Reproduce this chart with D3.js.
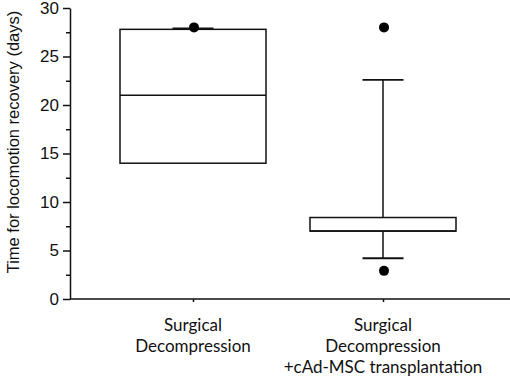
<!DOCTYPE html>
<html>
<head>
<meta charset="utf-8">
<script src="https://cdn.jsdelivr.net/npm/d3@7"></script>
<style>
  body { margin: 0; background: #fff; }
  .axis path, .axis line { stroke: #111; stroke-width: 1.5; }
  .axis text { font-family: Arial, "Liberation Sans", sans-serif; font-size: 17px; fill: #111; }
</style>
</head>
<body>
<div id="chart"></div>
<script>
// Box plot summaries (days)
const groups = ["Surgical Decompression", "Surgical Decompression +cAd-MSC transplantation"];
const groupLines = [["Surgical", "Decompression"], ["Surgical", "Decompression", "+cAd-MSC transplantation"]];
const q1 = [14, 7];
const medians = [21, 7];
const q3 = [27.8, 8.4];
const whiskerLow = [14, 4.2];
const whiskerHigh = [27.9, 22.6];
const outliers = [[28], [28, 2.9]];
const yTicks = [0, 5, 10, 15, 20, 25, 30];
const yMinorTicks = [2.5, 7.5, 12.5, 17.5, 22.5, 27.5];

const width = 510, height = 384;
const margin = { top: 8, right: 0, bottom: 85, left: 70 };
const plotW = width - margin.left - margin.right;
const plotH = height - margin.top - margin.bottom;

const svg = d3.select("#chart").append("svg")
    .attr("width", width)
    .attr("height", height);

const g = svg.append("g")
    .attr("transform", `translate(${margin.left},${margin.top})`);

const x = d3.scalePoint()
    .domain(groups)
    .range([123, 313]);

const y = d3.scaleLinear()
    .domain([0, 30])
    .range([plotH, 0]);

// y axis with major and minor ticks
g.append("g")
    .attr("class", "axis")
    .call(d3.axisLeft(y).tickValues(yMinorTicks).tickSize(4).tickFormat(""))
    .select(".domain").remove();

g.append("g")
    .attr("class", "axis")
    .call(d3.axisLeft(y).tickValues(yTicks).tickSize(7).tickSizeOuter(0).tickPadding(4));

// x axis
const xAxis = g.append("g")
    .attr("class", "axis")
    .attr("transform", `translate(0,${plotH})`)
    .call(d3.axisBottom(x).tickSize(3).tickSizeOuter(0).tickFormat(""));
xAxis.select(".domain").attr("d", `M0,0H${plotW}`);

// x labels, multi-line
const labels = g.append("g")
    .attr("transform", `translate(0,${plotH})`);
groups.forEach((grp, i) => {
    const t = labels.append("text")
        .attr("x", x(grp))
        .attr("y", 32)
        .attr("text-anchor", "middle")
        .style("font-family", "Lato, 'Open Sans', sans-serif")
        .style("font-size", "17px")
        .style("fill", "#111");
    groupLines[i].forEach((line, j) => {
        t.append("tspan")
            .attr("x", x(grp))
            .attr("dy", j === 0 ? 0 : 21)
            .text(line);
    });
});

// y axis title
g.append("text")
    .attr("transform", "rotate(-90)")
    .attr("x", -134)
    .attr("y", -51)
    .attr("text-anchor", "middle")
    .style("font-family", "Arial, 'Liberation Sans', sans-serif")
    .style("font-size", "16.5px")
    .style("fill", "#111")
    .text("Time for locomotion recovery (days)");

// boxes
const boxW = 146, capW = 41;
const boxes = g.selectAll(".box")
    .data(groups)
    .join("g")
    .attr("class", "box")
    .attr("transform", d => `translate(${x(d)},0)`);

boxes.append("line")
    .attr("y1", (d, i) => y(whiskerHigh[i]))
    .attr("y2", (d, i) => y(q3[i]))
    .attr("stroke", "#111").attr("stroke-width", 1.5);
boxes.append("line")
    .attr("y1", (d, i) => y(whiskerLow[i]))
    .attr("y2", (d, i) => y(q1[i]))
    .attr("stroke", "#111").attr("stroke-width", 1.5);

boxes.append("rect")
    .attr("x", -boxW / 2)
    .attr("width", boxW)
    .attr("y", (d, i) => y(q3[i]))
    .attr("height", (d, i) => y(q1[i]) - y(q3[i]))
    .attr("fill", "#fff")
    .attr("stroke", "#111")
    .attr("stroke-width", 1.5);

boxes.append("line")
    .attr("x1", -boxW / 2).attr("x2", boxW / 2)
    .attr("y1", (d, i) => y(medians[i]))
    .attr("y2", (d, i) => y(medians[i]))
    .attr("stroke", "#111").attr("stroke-width", 1.5);

// whisker caps
boxes.append("line")
    .attr("x1", -capW / 2).attr("x2", capW / 2)
    .attr("y1", (d, i) => y(whiskerHigh[i]))
    .attr("y2", (d, i) => y(whiskerHigh[i]))
    .attr("stroke", "#111").attr("stroke-width", 1.8);
boxes.filter((d, i) => whiskerLow[i] < q1[i]).append("line")
    .attr("x1", -capW / 2).attr("x2", capW / 2)
    .attr("y1", d => y(whiskerLow[groups.indexOf(d)]))
    .attr("y2", d => y(whiskerLow[groups.indexOf(d)]))
    .attr("stroke", "#111").attr("stroke-width", 1.8);

// outliers
boxes.each(function (d, i) {
    d3.select(this).selectAll("circle")
        .data(outliers[i])
        .join("circle")
        .attr("cx", 1)
        .attr("cy", v => y(v))
        .attr("r", 5)
        .attr("fill", "#000");
});
</script>
</body>
</html>
